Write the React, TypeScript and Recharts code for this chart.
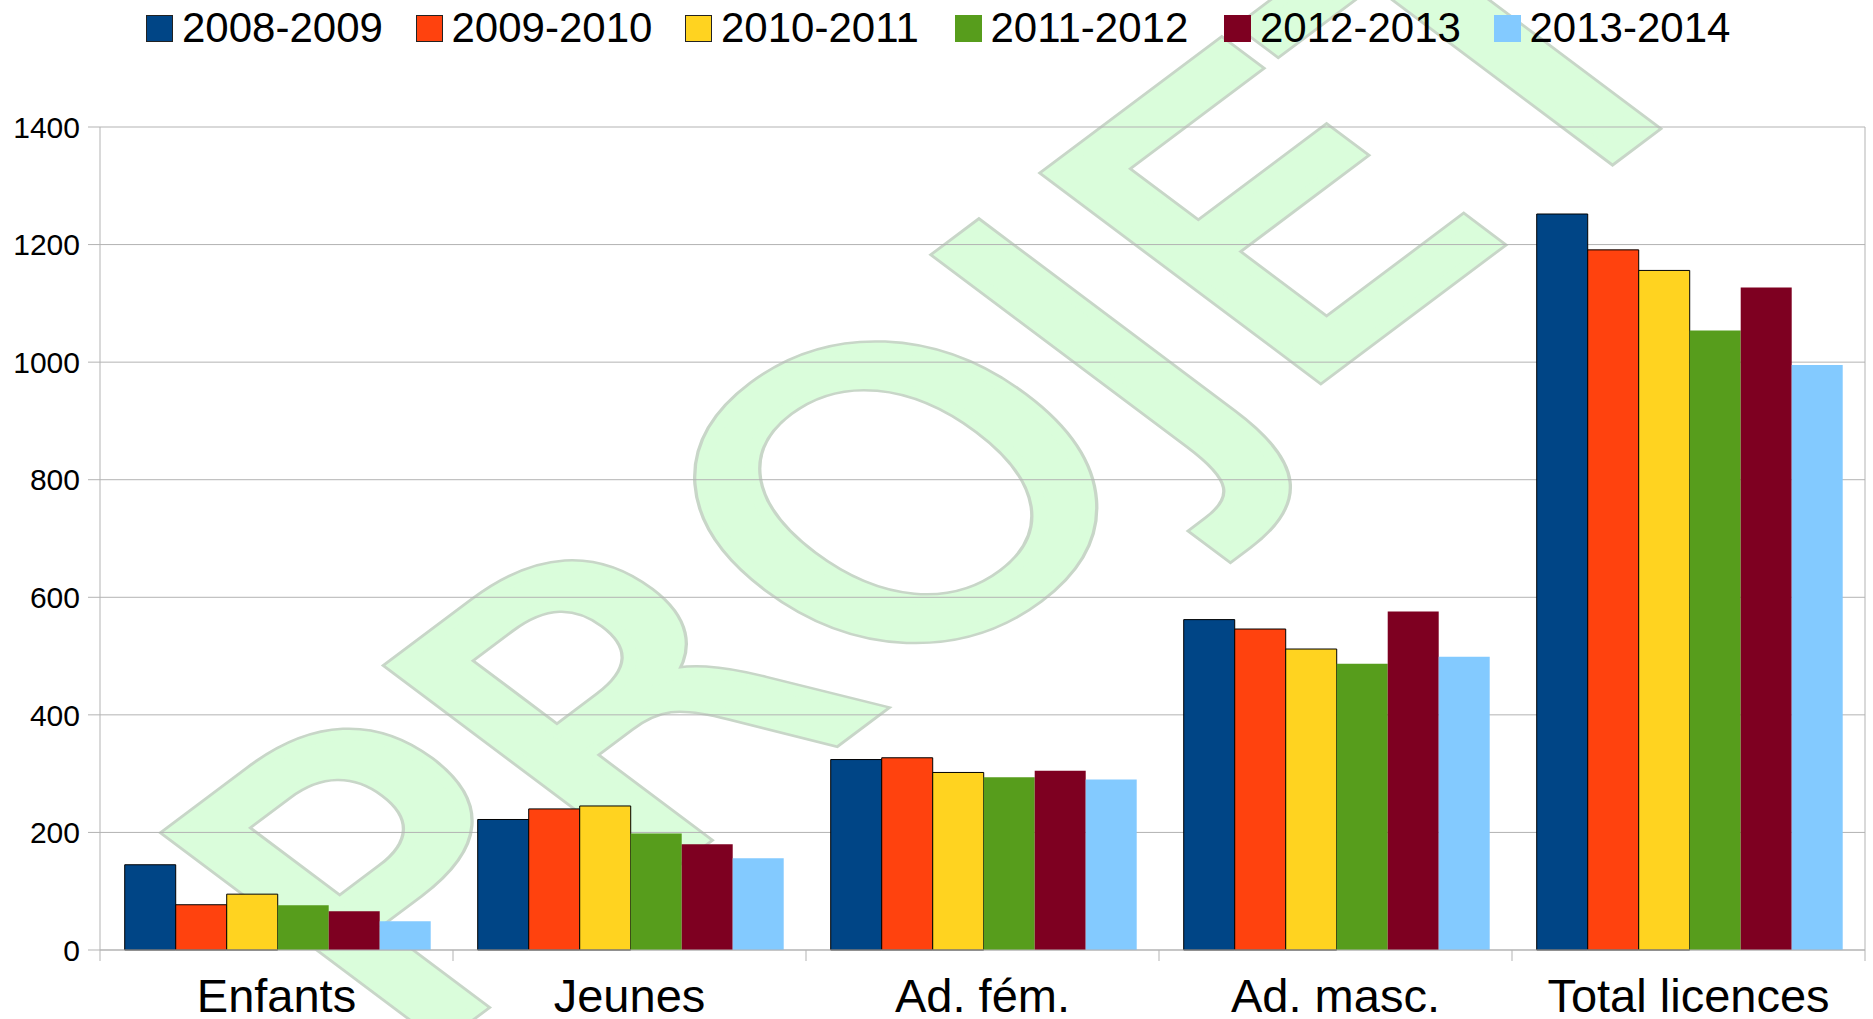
import React from 'react';
import { BarChart, Bar, XAxis, YAxis, CartesianGrid, Legend } from 'recharts';

const categories = ['Enfants', 'Jeunes', 'Ad. fém.', 'Ad. masc.', 'Total licences'];
const seasons = ['2008-2009', '2009-2010', '2010-2011', '2011-2012', '2012-2013', '2013-2014'];
const s2008 = [145, 222, 324, 562, 1252];
const s2009 = [77, 240, 327, 546, 1191];
const s2010 = [95, 245, 302, 512, 1156];
const s2011 = [76, 198, 294, 487, 1054];
const s2012 = [66, 180, 305, 576, 1127];
const s2013 = [49, 156, 290, 499, 995];
const yTicks = [0, 200, 400, 600, 800, 1000, 1200, 1400];

const seriesValues = [s2008, s2009, s2010, s2011, s2012, s2013];
const colors = ['#004586', '#ff420e', '#ffd320', '#579d1c', '#7e0021', '#83caff'];

const data = categories.map((name, i) => {
  const row: Record<string, string | number> = { name };
  seasons.forEach((s, k) => {
    row[s] = seriesValues[k][i];
  });
  return row;
});

const W = 1873;
const H = 1019;
const PLOT_LEFT = 100;
const PLOT_RIGHT = 1865;
const PLOT_BOTTOM = 950;
const BAND = (PLOT_RIGHT - PLOT_LEFT) / categories.length;
const GRID = '#b3b3b3';

const CategoryTick = (props: any) => {
  const { x, payload, index } = props;
  const half = BAND / 2;
  return (
    <g>
      <line x1={x - half} x2={x - half} y1={PLOT_BOTTOM} y2={PLOT_BOTTOM + 11} stroke={GRID} />
      {index === categories.length - 1 && (
        <line x1={x + half} x2={x + half} y1={PLOT_BOTTOM} y2={PLOT_BOTTOM + 11} stroke={GRID} />
      )}
      <text x={x} y={1012} textAnchor="middle" fontSize={47} fill="#000">
        {payload.value}
      </text>
    </g>
  );
};

const renderLegend = () => (
  <div style={{ display: 'flex', paddingLeft: 146, paddingTop: 7 }}>
    {seasons.map((s, i) => (
      <div key={s} style={{ display: 'flex', alignItems: 'center', width: 269.5, flex: 'none' }}>
        <span
          style={{
            display: 'inline-block',
            width: 27,
            height: 27,
            boxSizing: 'border-box',
            background: colors[i],
            border: i < 3 ? '1px solid #222' : 'none',
            marginRight: 9,
          }}
        />
        <span style={{ fontSize: 42, lineHeight: '42px', color: '#000' }}>{s}</span>
      </div>
    ))}
  </div>
);

const Watermark = () => {
  const x = 304;
  const y = 1062;
  const common = {
    x,
    y,
    transform: `rotate(-45 ${x} ${y})`,
    fontFamily: 'DejaVu Sans',
    fontSize: 392,
  };
  return (
    <svg width={W} height={H} style={{ position: 'absolute', left: 0, top: 0 }}>
      <g transform="scale(1.333,1)">
        <text {...common} fill="#c8d6c8" stroke="#c8d6c8" strokeWidth={15} strokeLinejoin="miter">
          PROJET
        </text>
        <text {...common} fill="#dafddb" stroke="#dafddb" strokeWidth={10} strokeLinejoin="miter">
          PROJET
        </text>
      </g>
    </svg>
  );
};

const App: React.FC = () => {
  return (
    <div
      style={{
        position: 'absolute',
        left: 0,
        top: 0,
        width: W,
        height: H,
        background: '#fff',
        fontFamily: '"Liberation Sans", Arial, sans-serif',
        overflow: 'hidden',
      }}
    >
      <Watermark />
      <div style={{ position: 'absolute', left: 0, top: 0 }}>
        <BarChart
          width={W}
          height={H}
          data={data}
          margin={{ top: 127, right: W - PLOT_RIGHT, bottom: 0, left: 0 }}
          barCategoryGap="7%"
          barGap={0}
        >
          <CartesianGrid stroke={GRID} vertical verticalPoints={[PLOT_RIGHT]} />
          <XAxis
            dataKey="name"
            height={H - PLOT_BOTTOM}
            interval={0}
            tickLine={false}
            axisLine={{ stroke: GRID }}
            tick={<CategoryTick />}
          />
          <YAxis
            width={PLOT_LEFT}
            domain={[0, 1400]}
            ticks={yTicks}
            interval={0}
            tickSize={12}
            tickMargin={8}
            axisLine={{ stroke: GRID }}
            tickLine={{ stroke: GRID }}
            tick={{ fontSize: 30, fill: '#000' }}
          />
          <Legend verticalAlign="middle" align="center" wrapperStyle={{ top: 0, left: 0, width: W }} content={renderLegend} />
          {seasons.map((s, i) => (
            <Bar
              key={s}
              dataKey={s}
              fill={colors[i]}
              stroke={i < 3 ? '#000' : 'none'}
              strokeWidth={1}
              isAnimationActive={false}
            />
          ))}
        </BarChart>
      </div>
    </div>
  );
};

export default App;
